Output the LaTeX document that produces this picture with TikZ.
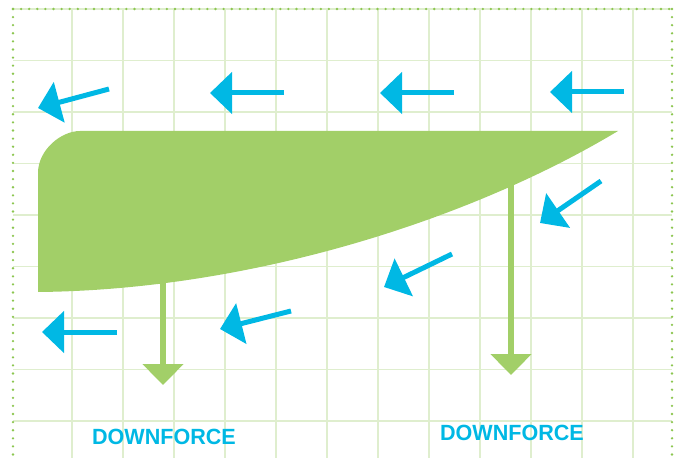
\documentclass[tikz,border=0pt]{standalone}
\usepackage{fontspec}
\newfontfamily\labelfont{Liberation Sans Bold}
\usetikzlibrary{arrows.meta}
\definecolor{wingreen}{RGB}{162,207,104}
\definecolor{gridgreen}{RGB}{223,238,206}
\definecolor{dotgreen}{RGB}{140,198,80}
\definecolor{aircyan}{RGB}{0,184,228}
\tikzset{
  gridline/.style={draw=gridgreen, line width=1.4pt},
  border/.style={draw=dotgreen, line width=2.6pt, line cap=round,
    dash pattern=on 0pt off 8.1pt},
  wing/.style={fill=wingreen},
  airflow/.style={draw=aircyan, line width=5pt,
    -{Triangle[length=22pt, width=41pt]}},
  downforce/.style={draw=wingreen, line width=6pt,
    -{Triangle[length=21pt, width=40pt]}},
  forcelabel/.style={inner sep=0pt, text=aircyan, xscale=0.98,
    font=\labelfont\fontsize{22}{24}\selectfont}
}
\begin{document}
\begin{tikzpicture}[x=1pt, y=-1pt]
\clip (0,0) rectangle (676,457);

% grid
\foreach \gx in {0,...,11}
  \draw[gridline] (72+51*\gx,9) -- (72+51*\gx,470);
\foreach \gy in {0,...,8}
  \draw[gridline] (13,9+51.5*\gy) -- (672,9+51.5*\gy);
\draw[border] (13,9) -- (672,9);
\draw[border] (13,9) -- (13,470);
\draw[border] (672,9) -- (672,470);

% downforce arrows, their tails hidden under the wing
\coordinate (dfL0) at (163,270);
\coordinate (dfL1) at (163,385);
\coordinate (dfR0) at (511,175);
\coordinate (dfR1) at (511,375);
\draw[downforce] (dfL0) -- (dfL1);
\draw[downforce] (dfR0) -- (dfR1);

% wing section
\fill[wing] (38,292) -- (38,173) .. controls (38,150) and (61,131) .. (80,131)
  -- (618,131) .. controls (470,220) and (250,290) .. (38,292) -- cycle;

% air flow
\coordinate (a1s) at (109,89);  \coordinate (a1e) at (38,108);
\coordinate (a2s) at (284,93);  \coordinate (a2e) at (210,93);
\coordinate (a3s) at (454,93);  \coordinate (a3e) at (380,93);
\coordinate (a4s) at (624,92);  \coordinate (a4e) at (550,92);
\coordinate (a5s) at (601,181); \coordinate (a5e) at (540,223);
\coordinate (a6s) at (452,254); \coordinate (a6e) at (384,287);
\coordinate (a7s) at (291,311); \coordinate (a7e) at (220,329);
\coordinate (a8s) at (117,332); \coordinate (a8e) at (42,332);
\foreach \k in {1,...,8}
  \draw[airflow] (a\k s) -- (a\k e);

\node[forcelabel] (dfLtext) at (164,437) {DOWNFORCE};
\node[forcelabel] (dfRtext) at (512,432.5) {DOWNFORCE};
\end{tikzpicture}
\end{document}
